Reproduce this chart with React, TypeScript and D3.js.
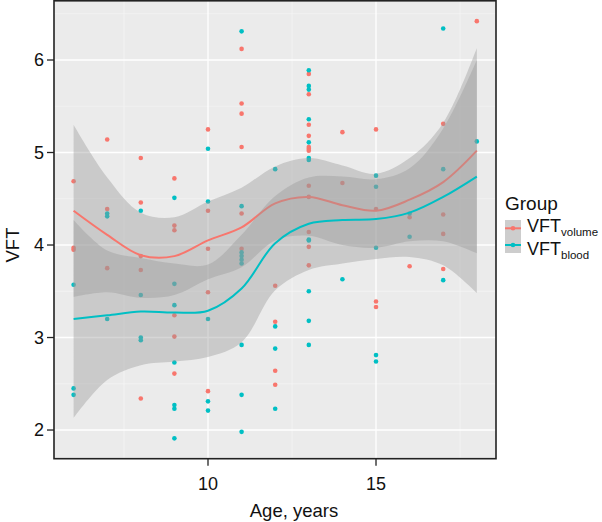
import React from "react";
import * as d3 from "d3";

const ages = [6, 7, 8, 9, 10, 11, 12, 13, 14, 15, 16, 17, 18];

const volumeByAge: number[][] = [
  [4.69, 3.97, 3.95],
  [5.14, 4.39, 3.75],
  [4.94, 4.46, 3.88, 3.73, 2.34],
  [4.72, 4.21, 4.16, 3.24, 3.01, 2.61],
  [5.25, 4.37, 3.96, 3.49, 2.42],
  [6.12, 5.53, 5.42, 5.06, 4.34, 3.96],
  [3.56, 3.17, 2.64, 2.49],
  [5.85, 5.63, 5.3, 5.18, 5.06, 5.04, 5.02, 4.64, 4.52, 4.14, 3.98, 3.78],
  [5.22, 4.67],
  [5.25, 4.39, 3.39, 3.33],
  [4.3, 3.77],
  [5.31, 4.33, 4.12, 3.74],
  [6.42],
];

const bloodByAge: number[][] = [
  [3.57, 2.45, 2.38],
  [4.34, 4.31, 3.2],
  [4.37, 3.46, 3.0, 2.97],
  [4.51, 3.58, 3.35, 2.73, 2.27, 2.23, 1.91],
  [5.04, 4.47, 3.2, 2.31, 2.21],
  [6.31, 4.42, 3.92, 3.88, 3.84, 3.8, 2.92, 2.38, 1.98],
  [4.82, 3.12, 2.88, 2.23],
  [5.89, 5.72, 5.68, 5.36, 5.11, 4.94, 4.92, 4.06, 4.05, 3.5, 3.18, 2.92],
  [3.63],
  [4.75, 4.63, 3.97, 2.81, 2.74],
  [4.34, 4.09],
  [6.34, 4.82, 3.62],
  [5.12],
];

const fitAges = [6, 7, 8, 9, 10, 11, 12, 13, 14, 15, 16, 17, 18];
const volumeFit = [4.37, 4.11, 3.89, 3.88, 4.05, 4.19, 4.45, 4.52, 4.43, 4.37, 4.49, 4.68, 5.02];
const volumeSE = [0.93, 0.62, 0.46, 0.42, 0.42, 0.43, 0.4, 0.42, 0.43, 0.4, 0.45, 0.64, 1.11];
const bloodFit = [3.2, 3.24, 3.28, 3.27, 3.29, 3.53, 4.02, 4.23, 4.27, 4.28, 4.35, 4.52, 4.74];
const bloodSE = [1.07, 0.7, 0.58, 0.53, 0.5, 0.58, 0.51, 0.5, 0.47, 0.43, 0.48, 0.74, 1.26];

const xTicks = [10, 15];
const xMinor = [7.5, 12.5, 17.5];
const yTicks = [2, 3, 4, 5, 6];
const yMinor = [2.5, 3.5, 4.5, 5.5, 6.5];

const legendTitle = "Group";
const legendMain = ["VFT", "VFT"];
const legendSub = ["volume", "blood"];
const colors = ["#F8766D", "#00BFC4"];

const FONT = "'Liberation Sans', Arial, Helvetica, sans-serif";

export default function App() {
  const W = 602;
  const H = 522;
  const x = d3.scaleLinear().domain([5.417, 18.571]).range([54, 496]);
  const y = d3.scaleLinear().domain([1.69, 6.64]).range([458.7, 0.8]);
  const [px0, px1] = x.range();
  const [py0, py1] = y.range();

  const makeArea = (fit: number[], se: number[]) =>
    d3
      .area<number>()
      .x((_, i) => x(fitAges[i]))
      .y0((_, i) => y(fit[i] - se[i]))
      .y1((_, i) => y(fit[i] + se[i]))
      .curve(d3.curveCatmullRom.alpha(0.5))(fit) || "";
  const makeLine = (fit: number[]) =>
    d3
      .line<number>()
      .x((_, i) => x(fitAges[i]))
      .y((d) => y(d))
      .curve(d3.curveCatmullRom.alpha(0.5))(fit) || "";

  const series = [
    { pts: volumeByAge, fit: volumeFit, se: volumeSE, color: colors[0] },
    { pts: bloodByAge, fit: bloodFit, se: bloodSE, color: colors[1] },
  ];

  const keyLineY = [228.3, 245];
  const keyTextY = [232, 255];

  return (
    <svg
      width={W}
      height={H}
      style={{ position: "absolute", left: 0, top: 0, background: "#fff" }}
      fontFamily={FONT}
    >
      <rect x={px0} y={py1} width={px1 - px0} height={py0 - py1} fill="#EBEBEB" />
      {xMinor.map((t) => (
        <line key={"xm" + t} x1={x(t)} x2={x(t)} y1={py1} y2={py0} stroke="#F5F5F5" strokeWidth={0.7} />
      ))}
      {yMinor.map((t) => (
        <line key={"ym" + t} x1={px0} x2={px1} y1={y(t)} y2={y(t)} stroke="#F5F5F5" strokeWidth={0.7} />
      ))}
      {xTicks.map((t) => (
        <line key={"xg" + t} x1={x(t)} x2={x(t)} y1={py1} y2={py0} stroke="#FFFFFF" strokeWidth={1.3} />
      ))}
      {yTicks.map((t) => (
        <line key={"yg" + t} x1={px0} x2={px1} y1={y(t)} y2={y(t)} stroke="#FFFFFF" strokeWidth={1.3} />
      ))}

      {series.map((s, si) =>
        s.pts.map((vals, ai) =>
          vals.map((v, vi) => (
            <circle key={`p${si}-${ai}-${vi}`} cx={x(ages[ai])} cy={y(v)} r={2.3} fill={s.color} />
          ))
        )
      )}

      {series.map((s, si) => (
        <g key={"sm" + si}>
          <path d={makeArea(s.fit, s.se)} fill="#999999" fillOpacity={0.4} />
          <path d={makeLine(s.fit)} fill="none" stroke={s.color} strokeWidth={2} />
        </g>
      ))}

      <rect x={px0} y={py1} width={px1 - px0} height={py0 - py1} fill="none" stroke="#222" strokeWidth={1.6} />

      {xTicks.map((t) => (
        <g key={"xt" + t}>
          <line x1={x(t)} x2={x(t)} y1={py0} y2={py0 + 7} stroke="#222" strokeWidth={1.3} />
          <text x={x(t)} y={490} textAnchor="middle" fontSize={18} fill="#111">
            {t}
          </text>
        </g>
      ))}
      {yTicks.map((t) => (
        <g key={"yt" + t}>
          <line x1={px0 - 7} x2={px0} y1={y(t)} y2={y(t)} stroke="#222" strokeWidth={1.3} />
          <text x={44} y={y(t) + 6.3} textAnchor="end" fontSize={18} fill="#111">
            {t}
          </text>
        </g>
      ))}

      <text x={294} y={517} textAnchor="middle" fontSize={18.5} fill="#111">
        Age, years
      </text>
      <text transform="translate(19,245) rotate(-90)" textAnchor="middle" fontSize={18.5} fill="#111">
        VFT
      </text>

      <text x={505} y={210} fontSize={19} fill="#111">
        {legendTitle}
      </text>
      <rect x={505} y={220} width={16} height={33} fill="#CDCDCD" />
      {legendMain.map((m, i) => (
        <g key={"lg" + i}>
          <line x1={505} x2={521} y1={keyLineY[i]} y2={keyLineY[i]} stroke={colors[i]} strokeWidth={2} />
          <circle cx={513} cy={keyLineY[i]} r={2.3} fill={colors[i]} />
          <text x={527} y={keyTextY[i]} fontSize={18} fill="#111">
            {m}
            <tspan fontSize={11.5} dy={4}>
              {legendSub[i]}
            </tspan>
          </text>
        </g>
      ))}
    </svg>
  );
}
